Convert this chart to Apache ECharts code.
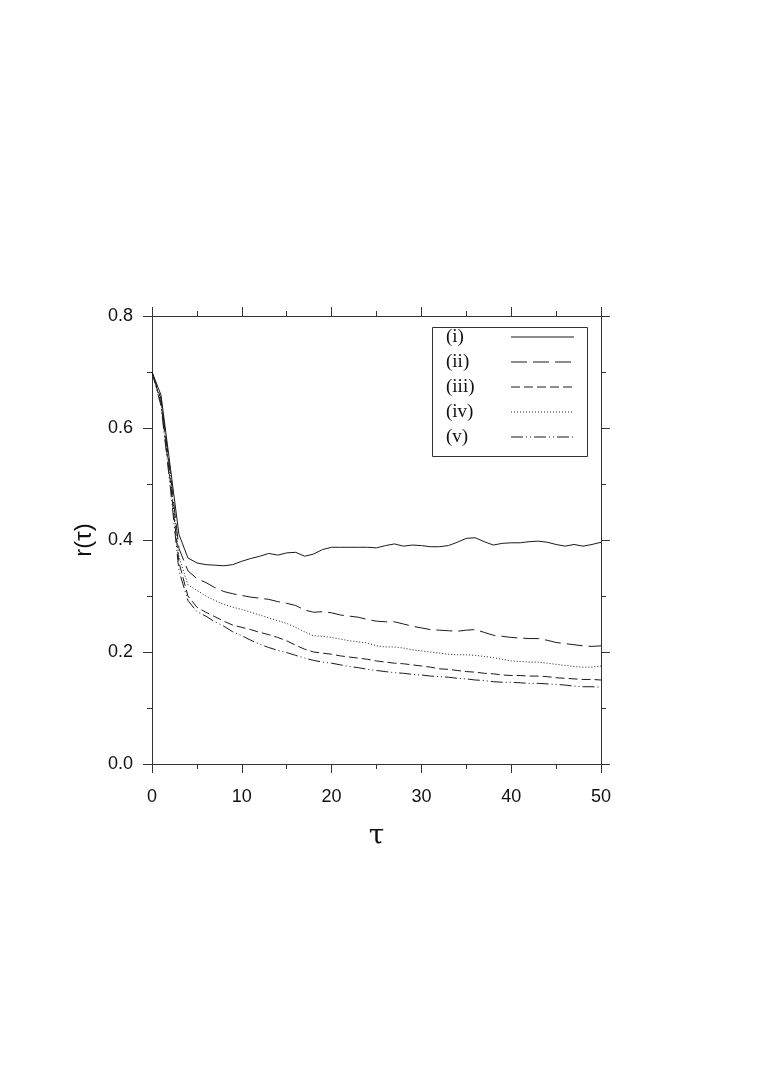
<!DOCTYPE html>
<html>
<head>
<meta charset="utf-8">
<script src="https://cdn.jsdelivr.net/npm/echarts@6/dist/echarts.min.js"></script>
<style>
html,body{margin:0;padding:0;background:#fff;}
#c{width:763px;height:1078px;}
</style>
</head>
<body>
<div id="c"></div>
<script>
var tau = [0,1,2,3,4,5,6,7,8,9,10,11,12,13,14,15,16,17,18,19,20,21,22,23,24,25,26,27,28,29,30,31,32,33,34,35,36,37,38,39,40,41,42,43,44,45,46,47,48,49,50];

var seriesI = [0.700,0.659,0.535,0.410,0.368,0.359,0.356,0.355,0.354,0.356,0.362,0.367,0.371,0.376,0.373,0.377,0.378,0.371,0.375,0.383,0.387,0.387,0.387,0.387,0.387,0.386,0.390,0.393,0.389,0.391,0.390,0.388,0.388,0.390,0.396,0.403,0.404,0.397,0.391,0.394,0.395,0.395,0.397,0.398,0.396,0.392,0.389,0.392,0.389,0.392,0.396];

var seriesII = [0.700,0.652,0.525,0.385,0.345,0.331,0.324,0.315,0.308,0.304,0.301,0.298,0.296,0.294,0.290,0.287,0.283,0.275,0.271,0.272,0.270,0.266,0.264,0.262,0.258,0.255,0.254,0.254,0.250,0.246,0.243,0.240,0.239,0.238,0.237,0.239,0.240,0.235,0.230,0.228,0.226,0.225,0.224,0.224,0.221,0.217,0.215,0.213,0.211,0.210,0.211];

var seriesIII = [0.700,0.645,0.510,0.360,0.300,0.280,0.271,0.263,0.255,0.248,0.244,0.240,0.235,0.231,0.226,0.220,0.212,0.205,0.200,0.198,0.196,0.193,0.191,0.189,0.187,0.184,0.182,0.180,0.179,0.177,0.175,0.173,0.170,0.169,0.167,0.165,0.164,0.162,0.161,0.159,0.158,0.158,0.157,0.157,0.156,0.154,0.153,0.152,0.151,0.151,0.150];

var seriesIV = [0.700,0.648,0.518,0.370,0.320,0.310,0.300,0.292,0.285,0.280,0.276,0.271,0.266,0.261,0.256,0.251,0.244,0.236,0.229,0.228,0.226,0.223,0.220,0.218,0.216,0.211,0.209,0.209,0.207,0.204,0.202,0.200,0.198,0.196,0.195,0.195,0.194,0.192,0.190,0.187,0.184,0.183,0.182,0.182,0.180,0.178,0.176,0.174,0.173,0.173,0.175];

var seriesV = [0.700,0.640,0.500,0.345,0.292,0.272,0.264,0.254,0.246,0.236,0.229,0.221,0.214,0.208,0.203,0.199,0.194,0.189,0.185,0.182,0.180,0.177,0.174,0.172,0.169,0.167,0.165,0.163,0.162,0.160,0.159,0.157,0.156,0.155,0.153,0.152,0.150,0.149,0.147,0.146,0.146,0.145,0.144,0.144,0.143,0.142,0.141,0.139,0.138,0.138,0.137];

var legendNames = ['(i)','(ii)','(iii)','(iv)','(v)'];
var xTicks = [0,10,20,30,40,50];
var yTicks = [0.0,0.2,0.4,0.6,0.8];

var dashes = ['solid',[16,6],[9,4],[1,2],[12,3,1,3,1,3]];
var allSeries = [seriesI, seriesII, seriesIII, seriesIV, seriesV];
var lineColor = '#1a1a1a';
var axisColor = '#333';

function pairs(vals){ return tau.map(function(t,i){ return [t, vals[i]]; }); }

var gridL = 152, gridT = 316, gridR = 162, gridB = 314;

function makeAxis(pos, isX, showLabel){
  var a = {
    type:'value', position:pos,
    min: isX ? xTicks[0] : yTicks[0],
    max: isX ? xTicks[xTicks.length-1] : yTicks[yTicks.length-1],
    interval: isX ? 10 : 0.2,
    axisLine:{show:true, onZero:false, lineStyle:{color:axisColor, width:1}},
    axisTick:{show:true, inside:false, length:9, lineStyle:{color:axisColor, width:1}},
    minorTick:{show:true, splitNumber:2, length:5, lineStyle:{color:axisColor, width:1}},
    splitLine:{show:false},
    axisLabel:{show:showLabel, color:'#111', fontFamily:'Liberation Sans, Arial, sans-serif', fontSize:18,
      margin: isX ? 24 : 19,
      formatter: function(v){ return isX ? String(Math.round(v)) : v.toFixed(1); }}
  };
  return a;
}

var xMain = makeAxis('bottom', true, true);
xMain.name = 'τ';
xMain.nameLocation = 'middle';
xMain.nameGap = 59;
xMain.nameTextStyle = {fontFamily:'DejaVu Serif, Liberation Serif, serif', fontSize:28, color:'#111'};
var xTop = makeAxis('top', true, false);
var yMain = makeAxis('left', false, true);
yMain.name = 'r(τ)';
yMain.nameLocation = 'middle';
yMain.nameGap = 56;
yMain.nameRotate = 90;
yMain.nameTextStyle = {fontFamily:'Liberation Sans, Arial, sans-serif', fontSize:24, color:'#111'};
var yRight = makeAxis('right', false, false);

var series = allSeries.map(function(vals, k){
  return {
    type:'line', name:legendNames[k], data:pairs(vals),
    xAxisIndex:0, yAxisIndex:0,
    showSymbol:false, symbol:'none', smooth:false, animation:false,
    lineStyle:{color:lineColor, width:1, type:dashes[k]}
  };
});

// legend box drawn with graphic elements
var lgLeft = 432, lgTop = 327, lgW = 155, lgH = 129;
var rowY = [337, 362, 387, 412, 437];
var graphics = [{
  type:'rect', left:lgLeft, top:lgTop, silent:true,
  shape:{x:0, y:0, width:lgW, height:lgH},
  style:{fill:'#fff', stroke:'#333', lineWidth:1}, z:10
}];
legendNames.forEach(function(n, k){
  graphics.push({
    type:'text', x:446, y:rowY[k], z:11,
    style:{text:n, font:'19px "Liberation Serif", "Times New Roman", serif', fill:'#111', textVerticalAlign:'middle', verticalAlign:'middle'}
  });
  graphics.push({
    type:'line', z:11,
    shape:{x1:511, y1:rowY[k], x2:574, y2:rowY[k]},
    style:{stroke:lineColor, lineWidth:1, lineDash: dashes[k]==='solid' ? null : dashes[k]}
  });
});

var chart = echarts.init(document.getElementById('c'), null, {renderer:'canvas'});
chart.setOption({
  animation:false,
  backgroundColor:'#fff',
  grid:{left:gridL, top:gridT, right:gridR, bottom:gridB, containLabel:false},
  xAxis:[xMain, xTop],
  yAxis:[yMain, yRight],
  series:series,
  graphic:graphics
});
</script>
</body>
</html>
